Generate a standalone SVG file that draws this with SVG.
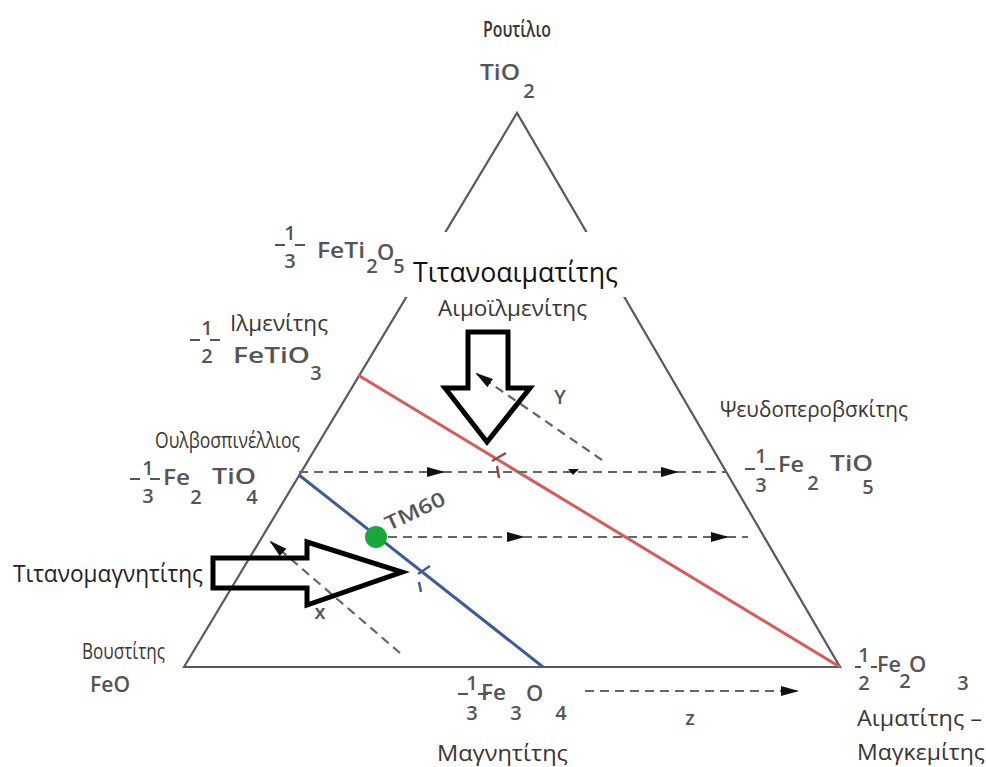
<svg xmlns="http://www.w3.org/2000/svg" width="986" height="767" viewBox="0 0 986 767">
<defs>
<style>
text{font-family:"Open Sans","Liberation Sans",sans-serif;}
.f{fill:#555;font-size:22px;font-weight:600;}
.s{fill:#555;font-size:20px;font-weight:600;}
.n{fill:#3a3530;font-size:21px;}
.m{text-anchor:middle;}
.bar{stroke:#555;stroke-width:2.2;stroke-dasharray:10 10 10;}
.edge{fill:none;stroke:#5a5a5a;stroke-width:2.2;}
.dash{fill:none;stroke:#666;stroke-width:2.2;stroke-dasharray:9 6;}
.ptr{fill:none;stroke:#000;stroke-width:5;stroke-linejoin:miter;}
</style>
<marker id="ah" markerUnits="userSpaceOnUse" markerWidth="18" markerHeight="10" viewBox="0 0 18 10" refX="16" refY="5" orient="auto">
<path d="M0,0 L18,5 L0,10 Z" fill="#111"/>
</marker>
</defs>
<rect width="986" height="767" fill="#fff"/>
<g id="triangle">
<path class="edge" d="M184,667 L517,113 L840,667 Z"/>
<rect x="403" y="232" width="232" height="65" fill="#fff"/>
</g>
<g id="connectors">
<line x1="358" y1="375" x2="840" y2="667" stroke="#d85a5a" stroke-width="3"/>
<line x1="299" y1="475" x2="543" y2="667" stroke="#3f5a98" stroke-width="3"/>
<path class="dash" d="M299,472 L443,472" marker-end="url(#ah)"/>
<path class="dash" d="M443,472 L677,472" marker-end="url(#ah)"/>
<path class="dash" d="M677,472 L727,472"/>
<path d="M568,469 L579,469 L573,475 Z" fill="#111"/>
<path class="dash" d="M388,537 L523,537" marker-end="url(#ah)"/>
<path class="dash" d="M523,537 L727,537" marker-end="url(#ah)"/>
<path class="dash" d="M727,537 L748,537"/>
<path class="dash" d="M602,460 L477,374" marker-end="url(#ah)"/>
<path class="dash" d="M400,653 L271,542" marker-end="url(#ah)"/>
<path class="dash" d="M585,691 L797,691" marker-end="url(#ah)"/>
<path d="M492,461 L506,453 M497,466 L499,478" stroke="#904848" stroke-width="2.5" fill="none"/>
<path d="M418,574 L430,566 M419,582 L421,592" stroke="#4a5a80" stroke-width="2.5" fill="none"/>
</g>
<g id="pointers">
<path class="ptr" d="M468,332 L508,332 L508,388 L530,388 L487,442 L445,388 L468,388 Z"/>
<path class="ptr" d="M213,558 L307,558 L307,542 L402,572 L307,605 L307,588 L213,588 Z"/>
</g>
<g id="tm60">
<circle cx="376" cy="537" r="11" fill="#1aa83c"/>
<text class="s" transform="translate(389,531) rotate(-25)" font-weight="normal" textLength="64" lengthAdjust="spacingAndGlyphs">TM60</text>
</g>
<g id="rutile">
<text class="n m" x="517" y="37" font-size="17" font-weight="600" textLength="68" lengthAdjust="spacingAndGlyphs">Ρουτίλιο</text>
<text class="f" x="480" y="80" font-size="24" textLength="40" lengthAdjust="spacingAndGlyphs">TiO</text>
<text class="s m" x="529" y="98">2</text>
</g>
<g id="feti2o5">
<text class="s m" x="290" y="240">1</text>
<line class="bar" x1="275" y1="245" x2="305" y2="245"/>
<text class="s m" x="290" y="268">3</text>
<text class="f" x="317" y="258" textLength="48" lengthAdjust="spacingAndGlyphs">FeTi</text>
<text class="s m" x="372" y="273">2</text>
<text class="f" x="377" y="260">O</text>
<text class="s m" x="399" y="273">5</text>
</g>
<g id="ilmenite">
<text class="n" x="230" y="331" textLength="98" lengthAdjust="spacingAndGlyphs">Ιλμενίτης</text>
<text class="s m" x="207" y="335">1</text>
<line class="bar" x1="190" y1="340" x2="222" y2="340"/>
<text class="s m" x="207" y="363">2</text>
<text class="f" x="233" y="363" textLength="77" lengthAdjust="spacingAndGlyphs">FeTiO</text>
<text class="s m" x="316" y="380">3</text>
</g>
<g id="titanohematite">
<text x="413" y="282" font-size="27" fill="#111" textLength="205" lengthAdjust="spacingAndGlyphs">Τιτανοαιματίτης</text>
<text class="n" x="438" y="316" textLength="149" lengthAdjust="spacingAndGlyphs">Αιμοϊλμενίτης</text>
</g>
<g id="pseudobrookite">
<text class="n" x="720" y="417" textLength="188" lengthAdjust="spacingAndGlyphs">Ψευδοπεροβσκίτης</text>
<text class="s m" x="761" y="463">1</text>
<line class="bar" x1="745" y1="469" x2="777" y2="469"/>
<text class="s m" x="761" y="492">3</text>
<text class="f" x="778" y="472" textLength="26" lengthAdjust="spacingAndGlyphs">Fe</text>
<text class="s m" x="813" y="490">2</text>
<text class="f" x="830" y="471" textLength="43" lengthAdjust="spacingAndGlyphs">TiO</text>
<text class="s m" x="868" y="494">5</text>
</g>
<g id="ulvospinel">
<text class="n" x="155" y="448" font-size="19" textLength="145" lengthAdjust="spacingAndGlyphs">Ουλβοσπινέλλιος</text>
<text class="s m" x="148" y="475">1</text>
<line class="bar" x1="130" y1="479" x2="164" y2="479"/>
<text class="s m" x="148" y="503">3</text>
<text class="f" x="163" y="485" textLength="27" lengthAdjust="spacingAndGlyphs">Fe</text>
<text class="s m" x="196" y="504">2</text>
<text class="f" x="212" y="484" textLength="44" lengthAdjust="spacingAndGlyphs">TiO</text>
<text class="s m" x="252" y="504">4</text>
</g>
<g id="titanomagnetite">
<text x="13" y="582" font-size="23" fill="#222" textLength="190" lengthAdjust="spacingAndGlyphs">Τιτανομαγνητίτης</text>
</g>
<g id="wustite">
<text class="n" x="82" y="659" font-size="19" textLength="83" lengthAdjust="spacingAndGlyphs">Βουστίτης</text>
<text class="f" x="90" y="692" textLength="40" lengthAdjust="spacingAndGlyphs">FeO</text>
</g>
<g id="magnetite">
<text class="s m" x="472" y="690">1</text>
<line class="bar" x1="458" y1="694" x2="488" y2="694"/>
<text class="s m" x="472" y="720">3</text>
<text class="f" x="481" y="700" textLength="25" lengthAdjust="spacingAndGlyphs">Fe</text>
<text class="s m" x="516" y="720">3</text>
<text class="f" x="526" y="701">O</text>
<text class="s m" x="561" y="720">4</text>
<text class="n" x="437" y="761" textLength="131" lengthAdjust="spacingAndGlyphs">Μαγνητίτης</text>
</g>
<g id="hematite">
<text class="s m" x="864" y="662">1</text>
<line class="bar" x1="855" y1="667" x2="877" y2="667" style="stroke-dasharray:6 10 6"/>
<text class="s m" x="864" y="690">2</text>
<text class="f" x="877" y="672" textLength="24" lengthAdjust="spacingAndGlyphs">Fe</text>
<text class="s m" x="905" y="688">2</text>
<text class="f" x="909" y="672">O</text>
<text class="s m" x="963" y="690">3</text>
<text class="n" x="857" y="726" textLength="125" lengthAdjust="spacingAndGlyphs">Αιματίτης –</text>
<text class="n" x="857" y="760" textLength="128" lengthAdjust="spacingAndGlyphs">Μαγκεμίτης</text>
</g>
<g id="axis-labels">
<text class="s m" x="560" y="404" font-size="17" font-weight="normal">Y</text>
<text class="s m" x="320" y="619" font-size="17" font-weight="normal">x</text>
<text class="s m" x="690" y="725" font-size="17">z</text>
</g>
</svg>
